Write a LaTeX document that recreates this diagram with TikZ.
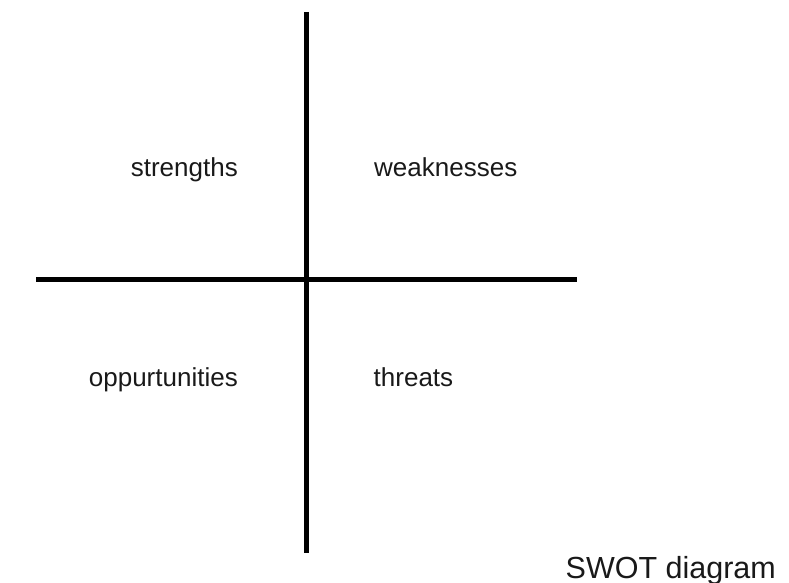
\documentclass[tikz,border=0pt]{standalone}
\usepackage{fontspec}
\setmainfont{Liberation Sans}
\begin{document}
\begin{tikzpicture}[x=1pt,y=-1pt,
  axis/.style={line width=5pt,black},
  lbl/.style={inner sep=0pt,font=\fontsize{26}{30}\selectfont,text=black!90},
  ttl/.style={inner sep=0pt,font=\fontsize{30.5}{36}\selectfont,text=black!90}]
\useasboundingbox (0,0) rectangle (789,583);
\coordinate (vt) at (306.5,12);
\coordinate (vb) at (306.5,552.5);
\coordinate (hl) at (36,279.5);
\coordinate (hr) at (577,279.5);
\draw[axis] (vt) -- (vb);
\draw[axis] (hl) -- (hr);
\node[lbl,anchor=base east] (s) at (238,176.5) {strengths};
\node[lbl,anchor=base west] (w) at (374,176.5) {weaknesses};
\node[lbl,anchor=base east] (o) at (238,386.7) {oppurtunities};
\node[lbl,anchor=base west] (t) at (373.5,386.7) {threats};
\node[ttl,anchor=base west] (title) at (565.5,578) {SWOT diagram};
\end{tikzpicture}
\end{document}
